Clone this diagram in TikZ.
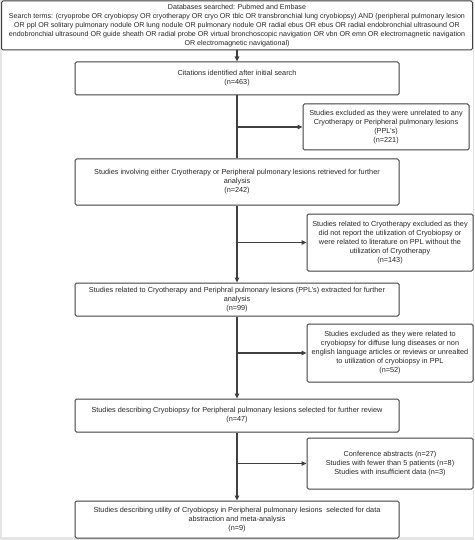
\documentclass[tikz,border=0pt]{standalone}
\usepackage{fontspec}
\setmainfont{Liberation Sans}
\usetikzlibrary{arrows.meta}
\begin{document}
\begin{tikzpicture}[x=1pt,y=-1pt,
  box/.style={draw=black!75, line width=1pt, rounded corners=1.5pt, align=center,
    font=\fontsize{7.3}{9}\selectfont, inner sep=0pt, text=black!85, fill=white},
  flow/.style={draw=black!75, line width=1.1pt},
  arr/.style={flow,-{Triangle[length=5pt,width=4.5pt]}}]
\useasboundingbox (0,0) rectangle (474,540);
\fill[black!10] (0,0) rectangle (474,540);
\fill[white] (1.5,1.5) rectangle (472.5,537);

\node[box, font=\fontsize{7.1}{9}\selectfont, minimum width=471pt, minimum height=49pt] (top) at (237,25.5)
  {Databases searched: Pubmed and Embase\\
   Search terms: (cryoprobe OR cryobiopsy OR cryotherapy OR cryo OR tblc OR transbronchial lung cryobiopsy) AND (peripheral pulmonary lesion\\
   OR ppl OR solitary pulmonary nodule OR lung nodule OR pulmonary nodule OR radial ebus OR ebus OR radial endobronchial ultrasound OR\\
   endobronchial ultrasound OR guide sheath OR radial probe OR virtual bronchoscopic navigation OR vbn OR emn OR electromagnetic navigation\\
   OR electromagnetic navigational)};

\node[box, minimum width=324pt, minimum height=33pt] (b1) at (237,78.5)
  {Citations identified after initial search\\(n=463)};
\node[box, minimum width=324pt, minimum height=46pt] (b2) at (237,182)
  {Studies involving either Cryotherapy or Peripheral pulmonary lesions retrieved for further\\analysis\\(n=242)};
\node[box, minimum width=324pt, minimum height=33pt] (b3) at (237,299.5)
  {Studies related to Cryotherapy and Periphral pulmonary lesions (PPL's) extracted for further\\analysis\\(n=99)};
\node[box, minimum width=324pt, minimum height=33pt] (b4) at (237,415.5)
  {Studies describing Cryobiopsy for Peripheral pulmonary lesions selected for further review\\(n=47)};
\node[box, minimum width=324pt, minimum height=37pt] (b5) at (237,519.5)
  {Studies describing utility of Cryobiopsy in Peripheral pulmonary lesions\ \ selected for data\\abstraction and meta-analysis\\(n=9)};

\node[box, minimum width=166pt, minimum height=46pt] (r1) at (386,127)
  {Studies excluded as they were unrelated to any\\Cryotherapy or Peripheral pulmonary lesions\\(PPL's)\\(n=221)};
\node[box, minimum width=166pt, minimum height=57pt] (r2) at (390,242.5)
  {Studies related to Cryotherapy excluded as they\\did not report the utilization of Cryobiopsy or\\were related to literature on PPL without the\\utilization of Cryotherapy\\(n=143)};
\node[box, minimum width=166pt, minimum height=58pt] (r3) at (390,353)
  {Studies excluded as they were related to\\cryobiopsy for diffuse lung diseases or non\\english language articles or reviews or unrealted\\to utilization of cryobiopsy in PPL\\(n=52)};
\node[box, minimum width=166pt, minimum height=51pt] (r4) at (390,463.5)
  {Conference abstracts (n=27)\\Studies with fewer than 5 patients (n=8)\\Studies with insufficient data (n=3)};

\draw[arr] (top.south) -- (b1.north);
\draw[flow] (b1.south) -- (b2.north);
\draw[arr] (b2.south) -- (b3.north);
\draw[arr] (b3.south) -- (b4.north);
\draw[arr] (b4.south) -- (b5.north);

\draw[arr] (b1.south |- r1.west) -- (r1.west);
\draw[arr] (b2.south |- r2.west) -- (r2.west);
\draw[arr] (b3.south |- r3.west) -- (r3.west);
\draw[arr] (b4.south |- r4.west) -- (r4.west);
\end{tikzpicture}
\end{document}
